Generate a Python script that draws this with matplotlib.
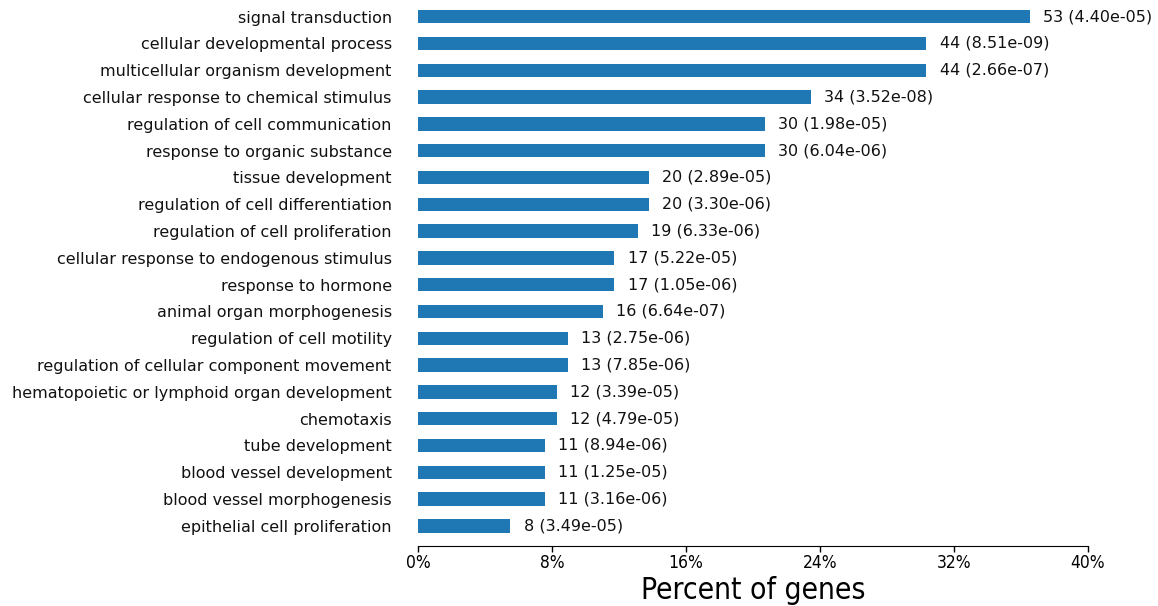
import matplotlib
matplotlib.use("Agg")
import matplotlib.pyplot as plt
from matplotlib.ticker import FuncFormatter

plt.rcParams["font.family"] = ["DejaVu Sans"]

terms = [
    "signal transduction",
    "cellular developmental process",
    "multicellular organism development",
    "cellular response to chemical stimulus",
    "regulation of cell communication",
    "response to organic substance",
    "tissue development",
    "regulation of cell differentiation",
    "regulation of cell proliferation",
    "cellular response to endogenous stimulus",
    "response to hormone",
    "animal organ morphogenesis",
    "regulation of cell motility",
    "regulation of cellular component movement",
    "hematopoietic or lymphoid organ development",
    "chemotaxis",
    "tube development",
    "blood vessel development",
    "blood vessel morphogenesis",
    "epithelial cell proliferation",
]
counts = [53, 44, 44, 34, 30, 30, 20, 20, 19, 17, 17, 16, 13, 13, 12, 12, 11, 11, 11, 8]
pvalues = ["4.40e-05", "8.51e-09", "2.66e-07", "3.52e-08", "1.98e-05", "6.04e-06",
           "2.89e-05", "3.30e-06", "6.33e-06", "5.22e-05", "1.05e-06", "6.64e-07",
           "2.75e-06", "7.85e-06", "3.39e-05", "4.79e-05", "8.94e-06", "1.25e-05",
           "3.16e-06", "3.49e-05"]
total_genes = 145
percents = [c / total_genes * 100 for c in counts]

fig = plt.figure(figsize=(11.58, 6.06), dpi=100)
ax = fig.add_axes([0.361, 0.099, 0.5786, 0.901])

ypos = list(range(len(terms)))
ax.barh(ypos, percents, height=0.5, color="#1f77b4")
for y, p, c, pv in zip(ypos, percents, counts, pvalues):
    ax.annotate(f"{c} ({pv})", xy=(p, y), xytext=(9.5, 0), textcoords="offset points",
                va="center", ha="left", fontsize=11.5, color="#111111")

ax.set_ylim(len(terms) - 0.25, -0.62)
ax.set_xlim(0, 40)
ax.set_xticks([0, 8, 16, 24, 32, 40])
ax.xaxis.set_major_formatter(FuncFormatter(lambda v, _: f"{v:.0f}%"))
ax.set_yticks(ypos)
ax.set_yticklabels(terms, fontsize=11.5, color="#111111")
ax.tick_params(axis="y", length=0, pad=19)
ax.tick_params(axis="x", labelsize=12.5, length=4, width=1, pad=1.5)
for lbl in ax.get_xticklabels():
    lbl.set_fontstretch("condensed")
for s in ("top", "right", "left"):
    ax.spines[s].set_visible(False)
ax.set_xlabel("Percent of genes", fontsize=21.5, labelpad=3, fontstretch="condensed")

fig.savefig("out.png", dpi=100)
